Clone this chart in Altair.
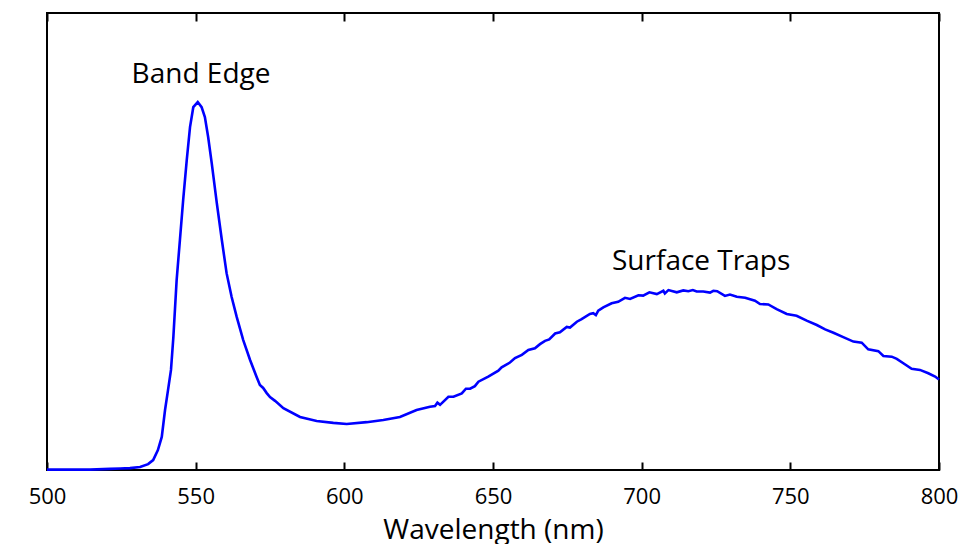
import altair as alt
import pandas as pd

# Photoluminescence spectrum of the nanocrystal sample (arbitrary units)
wavelength_nm = [
    500.0, 507.7, 514.5, 521.2, 524.6, 527.9, 531.3, 534.0, 535.7, 537.3,
    538.6, 539.7, 540.7, 541.7, 542.5, 543.6, 544.7, 545.8, 547.0, 548.1,
    549.2, 550.7, 552.0, 553.1, 554.2, 555.4, 557.1, 558.8, 560.4, 562.1,
    563.8, 566.0, 568.3, 570.5, 571.6, 572.7, 573.9, 575.0, 576.7, 579.5,
    585.1, 590.7, 596.3, 600.8, 607.5, 613.1, 618.7, 624.3,
    628.8, 630.5, 631.3, 632.2, 635.0, 636.7, 639.5, 640.9, 642.3, 643.9,
    645.1, 648.4, 651.8, 652.9, 655.7, 657.4, 659.7, 661.9, 664.1, 665.8,
    667.5, 668.9, 670.9, 672.5, 674.8, 675.9, 678.2, 679.8, 682.6, 683.7,
    684.6, 685.4, 687.1, 689.9, 692.1, 694.4, 696.1, 698.9, 700.5, 702.6,
    705.1, 707.3, 707.8, 709.0, 711.8, 714.0, 715.7, 717.2, 718.5, 720.7,
    723.0, 724.1, 725.4, 728.0, 729.7, 732.0, 734.8, 738.1, 739.8, 742.6,
    745.4, 748.8, 752.1, 755.5, 758.9, 761.7, 764.5, 767.8, 771.2, 774.0,
    776.2, 779.6, 781.3, 784.1, 785.8, 788.0, 790.8, 793.6, 796.4, 798.7,
    800.0,
]
intensity = [
    0.001, 0.001, 0.001, 0.003, 0.004, 0.005, 0.008, 0.016, 0.027, 0.054,
    0.090, 0.163, 0.217, 0.272, 0.361, 0.516, 0.625, 0.734, 0.842, 0.932,
    0.986, 1.000, 0.986, 0.959, 0.905, 0.834, 0.726, 0.625, 0.535, 0.470,
    0.416, 0.353, 0.299, 0.253, 0.231, 0.223, 0.209, 0.198, 0.188, 0.168,
    0.144, 0.133, 0.128, 0.125, 0.130, 0.136, 0.144, 0.163,
    0.172, 0.174, 0.183, 0.177, 0.199, 0.199, 0.208, 0.221, 0.221, 0.228,
    0.240, 0.254, 0.270, 0.279, 0.292, 0.304, 0.313, 0.326, 0.331, 0.342,
    0.351, 0.355, 0.371, 0.374, 0.389, 0.387, 0.403, 0.410, 0.424, 0.426,
    0.421, 0.433, 0.442, 0.453, 0.457, 0.468, 0.465, 0.475, 0.474, 0.483,
    0.478, 0.487, 0.480, 0.489, 0.483, 0.488, 0.486, 0.489, 0.485, 0.485,
    0.482, 0.487, 0.486, 0.473, 0.477, 0.471, 0.468, 0.460, 0.451, 0.450,
    0.437, 0.424, 0.419, 0.406, 0.394, 0.382, 0.373, 0.361, 0.349, 0.346,
    0.328, 0.323, 0.310, 0.308, 0.302, 0.290, 0.275, 0.272, 0.263, 0.254,
    0.246,
]

# Peak annotations
label_text = ["Band Edge", "Surface Traps"]
label_nm = [551.8, 720.0]
label_value = [1.052, 0.543]

x_ticks = [500, 550, 600, 650, 700, 750, 800]

FONT = "Open Sans"

spectrum = pd.DataFrame({"wavelength": wavelength_nm, "intensity": intensity})
labels = pd.DataFrame({"text": label_text, "wavelength": label_nm, "intensity": label_value})

x_scale = alt.Scale(domain=[500, 800], nice=False, zero=False)
y_scale = alt.Scale(domain=[0, 1.242], nice=False, zero=True)

line = alt.Chart(spectrum).mark_line(color="#0000ff", strokeWidth=2.6).encode(
    x=alt.X(
        "wavelength:Q",
        scale=x_scale,
        axis=alt.Axis(
            title="Wavelength (nm)",
            values=x_ticks,
            orient="bottom",
            offset=-8,
            tickSize=8,
            tickWidth=2,
            tickColor="black",
            domain=False,
            grid=False,
            labelFlush=False,
            labelOverlap=False,
            labelPadding=16,
            labelFont=FONT,
            labelFontSize=22,
            labelColor="black",
            titleFont=FONT,
            titleFontSize=28,
            titleFontWeight="normal",
            titleColor="black",
            titlePadding=9,
        ),
    ),
    y=alt.Y(
        "intensity:Q",
        scale=y_scale,
        axis=alt.Axis(
            title="Fluorescence Intensity",
            ticks=False,
            labels=False,
            domain=False,
            grid=False,
            titleFont=FONT,
            titleFontSize=28,
            titleFontWeight="normal",
            titleColor="black",
            titlePadding=12,
        ),
    ),
)

# Inward tick marks along the top edge of the frame
top_ticks = alt.Chart(spectrum).mark_line(opacity=0).encode(
    x=alt.X(
        "wavelength:Q",
        scale=x_scale,
        axis=alt.Axis(
            orient="top",
            values=x_ticks,
            offset=-8,
            tickSize=8,
            tickWidth=2,
            tickColor="black",
            labels=False,
            domain=False,
            grid=False,
            title=None,
        ),
    ),
    y=alt.Y("intensity:Q", scale=y_scale, axis=None),
)

text = alt.Chart(labels).mark_text(
    font=FONT, fontSize=28, color="black", align="center", baseline="alphabetic"
).encode(
    x=alt.X("wavelength:Q", scale=x_scale, axis=None),
    y=alt.Y("intensity:Q", scale=y_scale, axis=None),
    text="text:N",
)

chart = (
    alt.layer(line, top_ticks, text)
    .resolve_axis(x="independent")
    .properties(
        width=892,
        height=457,
        autosize=alt.AutoSizeParams(type="none"),
        padding={"left": 47, "top": 13, "right": 22, "bottom": 74},
        background="white",
    )
    .configure_view(stroke="black", strokeWidth=2)
)

chart.save("out.html", embed_options={"renderer": "svg", "actions": False})
